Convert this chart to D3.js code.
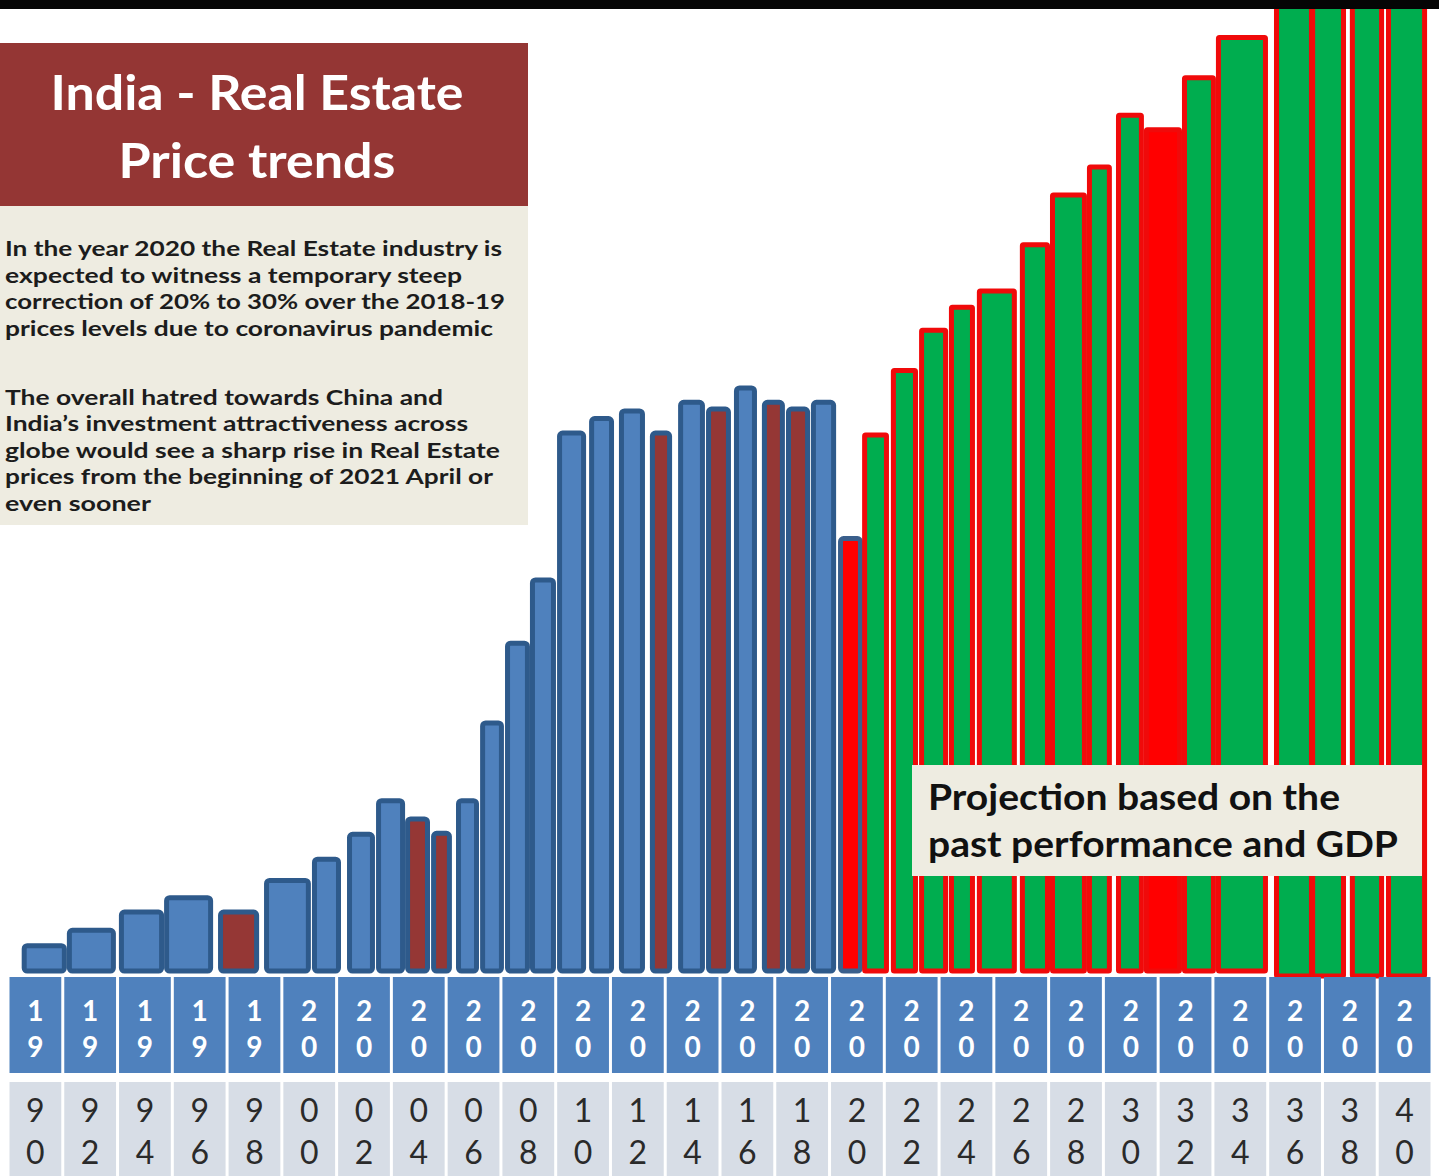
<!DOCTYPE html>
<html lang="en">

<head>
    <meta charset="UTF-8">
    <title>India - Real Estate Price trends</title>
    <style>
        body { margin: 0; background: #fff; }
        svg { display: block; }
    </style>
</head>

<body>
    <script type='text/javascript' src='https://d3js.org/d3.v7.min.js'></script>

    <script>
        // column labels (one column every two years)
        const years = [1990, 1992, 1994, 1996, 1998, 2000, 2002, 2004, 2006, 2008, 2010, 2012, 2014,
            2016, 2018, 2020, 2022, 2024, 2026, 2028, 2030, 2032, 2034, 2036, 2038, 2040];

        // bars: where each one starts / ends on the year axis, its price index and its kind
        const barStart = [1989.5, 1991.15, 1993.05, 1994.7, 1996.67, 1998.35, 2000.1, 2001.38, 2002.44, 2003.5,
            2004.45, 2005.36, 2006.24, 2007.15, 2008.06, 2009.05, 2010.22, 2011.31, 2012.44, 2013.47,
            2014.49, 2015.51, 2016.53, 2017.41, 2018.32, 2019.31, 2020.19, 2021.24, 2022.27, 2023.36,
            2024.38, 2025.95, 2027.05, 2028.4, 2029.46, 2030.48, 2031.87, 2033.11, 2035.23, 2036.55,
            2038.0, 2039.32];
        const barEnd = [1991.15, 1992.94, 1994.7, 1996.49, 1998.17, 2000.06, 2001.16, 2002.4, 2003.5, 2004.41,
            2005.21, 2006.2, 2007.11, 2008.06, 2009.01, 2010.11, 2011.13, 2012.26, 2013.25, 2014.45,
            2015.4, 2016.35, 2017.37, 2018.29, 2019.24, 2020.22, 2021.17, 2022.23, 2023.33, 2024.31,
            2025.84, 2027.05, 2028.4, 2029.31, 2030.48, 2031.87, 2033.11, 2035.01, 2036.69, 2037.86,
            2039.25, 2040.82];
        const barValue = [2.9, 4.5, 6.4, 7.9, 6.4, 9.7, 11.9, 14.5, 18.0, 16.1,
            14.6, 18.0, 26.1, 34.4, 41.0, 56.3, 57.8, 58.6, 56.3, 59.5,
            58.8, 61.0, 59.5, 58.8, 59.5, 45.3, 56.1, 62.8, 67.0, 69.4,
            71.1, 75.9, 81.1, 84.0, 89.4, 87.9, 93.3, 97.5, 102, 102,
            102, 102];
        const barKind = ['up', 'up', 'up', 'up', 'down', 'up', 'up', 'up', 'up', 'down',
            'down', 'up', 'up', 'up', 'up', 'up', 'up', 'up', 'down', 'up',
            'down', 'up', 'down', 'down', 'up', 'crash', 'proj', 'proj', 'proj', 'proj',
            'proj', 'proj', 'proj', 'proj', 'proj', 'projDown', 'proj', 'proj', 'proj', 'proj',
            'proj', 'proj'];

        const titleLines = ['India - Real Estate', 'Price trends'];
        const noteLines = [
            ['In the year 2020 the Real Estate industry is', 497],
            ['expected to witness a temporary steep', 457],
            ['correction of 20% to 30% over the 2018-19', 500],
            ['prices levels due to coronavirus  pandemic', 488],
            ['', 0],
            ['The overall hatred towards China and', 438],
            ['India\u2019s investment attractiveness across', 463],
            ['globe would see a sharp rise in Real Estate', 495],
            ['prices from the beginning  of 2021 April or', 488],
            ['even sooner', 146]
        ];
        const projLines = [['Projection based on the', 412], ['past performance and GDP', 470]];

        const fills = { up: '#4f81bd', down: '#953735', crash: '#ff0000', proj: '#00ad4f', projDown: '#ff0000' };
        const strokes = { up: '#2e5a8b', down: '#2e5a8b', crash: '#3a5f8c', proj: '#f00a0a', projDown: '#f00a0a' };

        const W = 1439, H = 1176;
        const font = 'Lato, "Open Sans", sans-serif';

        let svg = d3.select('body').append('svg').attr('width', W).attr('height', H);

        var x = d3.scaleLinear().domain([1989, 2041]).range([8, 1432]);
        var y = d3.scaleLinear().domain([0, 100]).range([971, 11]);

        const bars = barValue.map((v, i) => ({ x0: barStart[i], x1: barEnd[i], v: v, kind: barKind[i] }));

        svg.append('defs').append('clipPath').attr('id', 'plot')
            .append('rect').attr('x', 0).attr('y', 9).attr('width', W).attr('height', 970);

        svg.append('g').attr('clip-path', 'url(#plot)')
            .selectAll('.bar')
            .data(bars)
            .enter().append('rect')
            .attr('class', 'bar')
            .attr('x', d => x(d.x0) + 2.5)
            .attr('width', d => x(d.x1) - x(d.x0) - 5)
            .attr('y', d => y(d.v) + 2.5)
            .attr('height', d => y(0) - y(d.v) - 2.5 + (d.v > 100 ? 5 : 0))
            .attr('rx', d => d.kind.startsWith('proj') ? 1 : 3)
            .style('fill', d => fills[d.kind])
            .style('stroke', d => strokes[d.kind])
            .style('stroke-width', 5);

        // black band on top
        svg.append('rect').attr('x', 0).attr('y', 0).attr('width', W).attr('height', 9).style('fill', '#050505');

        // title box
        svg.append('rect').attr('x', 0).attr('y', 43).attr('width', 528).attr('height', 163).style('fill', '#943634');
        svg.selectAll('.title')
            .data(titleLines)
            .enter().append('text')
            .attr('class', 'title')
            .attr('x', 257)
            .attr('y', (d, i) => 110 + i * 68)
            .attr('text-anchor', 'middle')
            .attr('textLength', (d, i) => [413, 277][i])
            .attr('lengthAdjust', 'spacingAndGlyphs')
            .style('font-family', font).style('font-weight', 'bold').style('font-size', '47px')
            .style('fill', '#fff')
            .text(d => d);

        // note box
        svg.append('rect').attr('x', 0).attr('y', 206).attr('width', 528).attr('height', 319).style('fill', '#eeece1');
        svg.selectAll('.note')
            .data(noteLines.filter(d => d[0] !== ''))
            .enter().append('text')
            .attr('class', 'note')
            .attr('x', 5)
            .attr('y', d => 256 + noteLines.indexOf(d) * 26.5 + (noteLines.indexOf(d) > 4 ? 16 : 0))
            .attr('textLength', d => d[1])
            .attr('lengthAdjust', 'spacingAndGlyphs')
            .style('font-family', font).style('font-weight', 'bold').style('font-size', '21px')
            .style('fill', '#1c1c1c')
            .text(d => d[0]);

        // projection note
        svg.append('rect').attr('x', 912).attr('y', 765).attr('width', 510).attr('height', 111).style('fill', '#eeece1');
        svg.selectAll('.proj')
            .data(projLines)
            .enter().append('text')
            .attr('class', 'proj')
            .attr('x', 928)
            .attr('y', (d, i) => 810 + i * 47)
            .attr('textLength', d => d[1])
            .attr('lengthAdjust', 'spacingAndGlyphs')
            .style('font-family', font).style('font-weight', 'bold').style('font-size', '36px')
            .style('fill', '#111')
            .text(d => d[0]);

        // year table: century row and year row
        const cells = svg.selectAll('.col')
            .data(years)
            .enter().append('g')
            .attr('class', 'col');

        cells.append('rect')
            .attr('x', d => x(d - 1) + 1.5)
            .attr('width', d => x(d + 1) - x(d - 1) - 3)
            .attr('y', 977).attr('height', 96)
            .style('fill', '#4f81bd');

        cells.append('rect')
            .attr('x', d => x(d - 1) + 1.5)
            .attr('width', d => x(d + 1) - x(d - 1) - 3)
            .attr('y', 1082).attr('height', 100)
            .style('fill', '#d7dde6');

        [0, 1].forEach(k => {
            cells.append('text')
                .attr('x', d => x(d))
                .attr('y', 1021 + k * 36)
                .attr('text-anchor', 'middle')
                .style('font-family', font).style('font-weight', 'bold').style('font-size', '28px')
                .style('fill', '#fff')
                .text(d => String(d)[k]);

            cells.append('text')
                .attr('x', d => x(d))
                .attr('y', 1122 + k * 42)
                .attr('text-anchor', 'middle')
                .style('font-family', font).style('font-size', '32px')
                .style('fill', '#2a2a2a')
                .text(d => String(d)[k + 2]);
        });
    </script>
</body>

</html>
